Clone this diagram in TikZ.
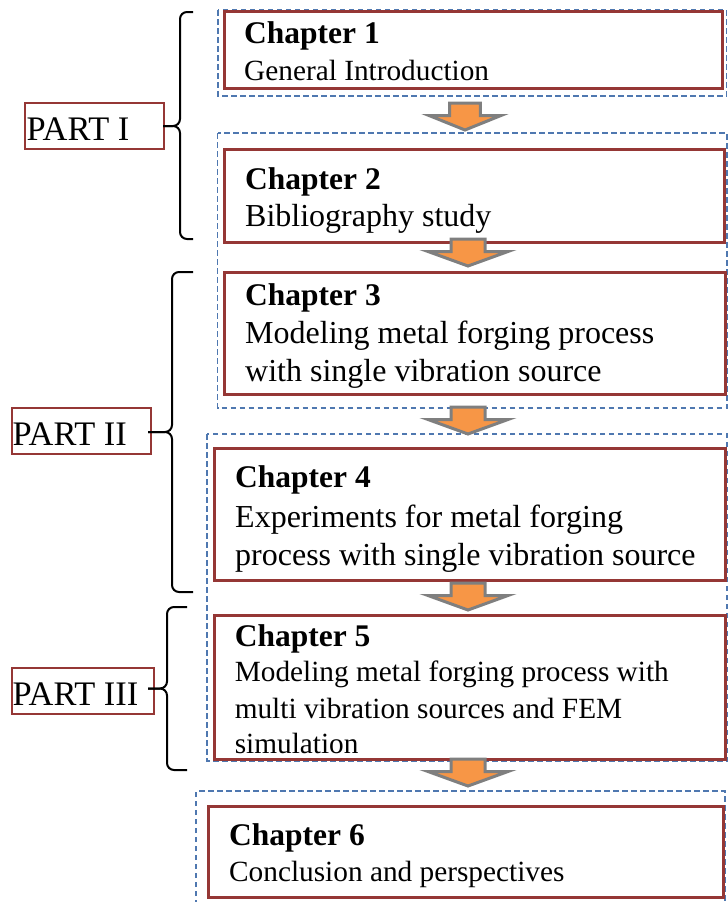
\documentclass[tikz,border=0pt]{standalone}
\usepackage{fontspec}
\setmainfont{Liberation Serif}
\usetikzlibrary{fit}
\definecolor{boxred}{HTML}{953735}
\definecolor{dashblue}{HTML}{4F78B0}
\definecolor{arrowgray}{HTML}{7F7F7F}
\definecolor{arroworange}{HTML}{F79646}
\tikzset{
  redbox/.style={draw=boxred, line width=3pt, inner sep=0pt},
  partbox/.style={draw=boxred, line width=2pt, inner sep=0pt},
  groupbox/.style={draw=dashblue, line width=1.2pt, dash pattern=on 5.5pt off 3.5pt},
  chtitle/.style={font=\fontsize{31.5}{36}\selectfont\bfseries, inner sep=0pt, anchor=base west},
  bodysmall/.style={font=\fontsize{29.3}{34}\selectfont, inner sep=0pt, anchor=base west},
  bodylarge/.style={font=\fontsize{32}{37}\selectfont, inner sep=0pt, anchor=base west},
  parttext/.style={font=\fontsize{34.4}{40}\selectfont, inner sep=0pt, anchor=base west},
  bracestyle/.style={draw=black, line width=2pt, rounded corners=7pt},
  arrowstyle/.style={draw=arrowgray, fill=arroworange, line width=3pt},
  flowarrow/.pic={\path[arrowstyle] (-17,0) -- (17,0) -- (17,12.5) -- (40,12.5) -- (0,27) -- (-40,12.5) -- (-17,12.5) -- cycle;}
}
\begin{document}
\begin{tikzpicture}[x=1pt,y=-1pt]
\useasboundingbox (0,0) rectangle (728,902);
% dashed group boxes
\draw[groupbox] (218,10) rectangle (726.5,96);
\draw[groupbox] (217.5,133) rectangle (727,408);
\draw[groupbox] (207,434) rectangle (727,761);
\draw[groupbox] (196,905) -- (196,791) -- (725,791) -- (725,905);
% chapter boxes
\node[redbox, fit={(224,11) (722,88)}] (ch1) {};
\node[redbox, fit={(224,149) (724.5,242)}] (ch2) {};
\node[redbox, fit={(224,272) (725.5,394)}] (ch3) {};
\node[redbox, fit={(214.5,448) (725.7,580)}] (ch4) {};
\node[redbox, fit={(214,615) (725,759)}] (ch5) {};
\node[redbox, fit={(208.5,806) (723.5,897)}] (ch6) {};
% chapter texts
\node[chtitle] (t1a) at (244,43.3) {Chapter 1};
\node[bodysmall] (t1b) at (244,80) {General Introduction};
\node[chtitle] (t2a) at (245,189.3) {Chapter 2};
\node[bodylarge] (t2b) at (245,226.7) {Bibliography study};
\node[chtitle] (t3a) at (245,305) {Chapter 3};
\node[bodylarge] (t3b) at (245,343) {Modeling metal forging process};
\node[bodylarge] (t3c) at (245,381.7) {with single vibration source};
\node[chtitle] (t4a) at (235,487) {Chapter 4};
\node[bodylarge] (t4b) at (235,527) {Experiments for metal forging};
\node[bodylarge] (t4c) at (235,565) {process with single vibration source};
\node[chtitle] (t5a) at (234.6,646.7) {Chapter 5};
\node[bodysmall] (t5b) at (234.6,681.7) {Modeling metal forging process with};
\node[bodysmall] (t5c) at (234.6,718) {multi vibration sources and FEM};
\node[bodysmall] (t5d) at (234.6,753) {simulation};
\node[chtitle] (t6a) at (229,845) {Chapter 6};
\node[bodysmall] (t6b) at (229,881.7) {Conclusion and perspectives};
% part labels
\node[partbox, fit={(25,103) (164,149)}] (p1) {};
\node[parttext] (p1t) at (26.5,140) {PART I};
\node[partbox, fit={(12,408) (151,454)}] (p2) {};
\node[parttext] (p2t) at (12.5,445) {PART II};
\node[partbox, fit={(12,668) (154,714)}] (p3) {};
\node[parttext] (p3t) at (12.5,705) {PART III};
% braces
\coordinate (b1tip) at (163,126);
\coordinate (b2tip) at (148,432);
\coordinate (b3tip) at (148,688.5);
\draw[bracestyle] (193,12) -- (180,12) -- (180,126) -- (b1tip);
\draw[bracestyle] (b1tip) -- (180,126) -- (180,239) -- (193,239);
\draw[bracestyle] (193,272) -- (172,272) -- (172,432) -- (b2tip);
\draw[bracestyle] (b2tip) -- (172,432) -- (172,592) -- (193,592);
\draw[bracestyle] (187,607) -- (167,607) -- (167,688.5) -- (b3tip);
\draw[bracestyle] (b3tip) -- (167,688.5) -- (167,770) -- (187,770);
% flow arrows
\pic[xscale=0.9] (a1) at (465,103) {flowarrow};
\pic (a2) at (468,239) {flowarrow};
\pic (a3) at (468,407) {flowarrow};
\pic (a4) at (468,583) {flowarrow};
\pic (a5) at (468,759) {flowarrow};
\end{tikzpicture}
\end{document}
